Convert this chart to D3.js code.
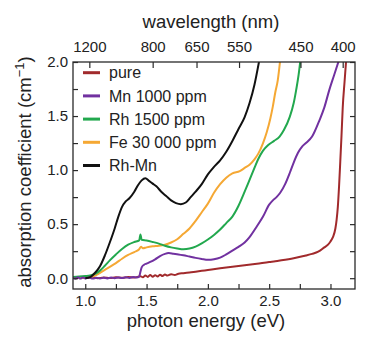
<!DOCTYPE html>
<html>
<head>
<meta charset="utf-8">
<script src="https://cdn.jsdelivr.net/npm/d3@7"></script>
<style>
  html, body { margin: 0; padding: 0; background: #fff; }
  svg { display: block; font-family: "Liberation Sans", Arial, sans-serif; }
</style>
</head>
<body>
<svg id="chart" width="376" height="342"></svg>
<script>
// Absorption spectra: photon energy (eV) vs absorption coefficient (cm^-1)
const seriesNames = ["pure", "Mn 1000 ppm", "Rh 1500 ppm", "Fe 30 000 ppm", "Rh-Mn"];
const seriesColors = ["#a12a2c", "#7131a0", "#22a84e", "#f5a834", "#111111"];

const purePts = [
  [0.90,0.010],[0.93,0.000],[0.96,0.012],[1.00,0.002],[1.05,0.008],[1.10,0.000],[1.15,0.006],
  [1.20,0.002],[1.25,0.008],[1.30,0.004],[1.35,0.010],[1.40,0.006],[1.45,0.018],[1.47,0.008],
  [1.49,0.026],[1.51,0.012],[1.53,0.030],[1.55,0.014],[1.57,0.028],[1.59,0.016],[1.61,0.032],
  [1.63,0.020],[1.65,0.034],[1.67,0.024],[1.70,0.036],[1.73,0.030],[1.76,0.042],[1.80,0.046],
  [1.85,0.052],[1.90,0.060],[1.95,0.068],[2.00,0.076],[2.10,0.092],[2.20,0.106],[2.30,0.120],
  [2.40,0.134],[2.50,0.150],[2.55,0.156],[2.60,0.165],[2.70,0.185],[2.80,0.210],[2.85,0.225],
  [2.90,0.245],[2.95,0.285],[2.98,0.310],[3.00,0.340],[3.02,0.380],[3.04,0.460],[3.05,0.540],
  [3.06,0.660],[3.07,0.850],[3.08,1.080],[3.09,1.320],[3.10,1.580],[3.115,1.820],[3.13,2.050]
];
const mnPts = [
  [0.90,0.005],[0.92,-0.005],[0.94,0.008],[0.96,-0.004],[0.98,0.006],[1.00,-0.002],[1.03,0.006],
  [1.06,-0.004],[1.09,0.004],[1.12,-0.003],[1.15,0.005],[1.18,-0.002],[1.21,0.006],[1.24,0.000],
  [1.27,0.007],[1.30,0.001],[1.33,0.008],[1.36,0.002],[1.39,0.010],[1.42,0.006],[1.44,0.015],
  [1.45,0.060],[1.46,0.100],[1.48,0.125],[1.50,0.135],[1.53,0.150],[1.57,0.175],[1.61,0.205],
  [1.65,0.225],[1.68,0.232],[1.72,0.226],[1.76,0.220],[1.80,0.212],[1.85,0.200],[1.90,0.188],
  [1.95,0.178],[2.00,0.170],[2.05,0.175],[2.10,0.190],[2.15,0.220],[2.20,0.255],[2.25,0.290],
  [2.30,0.330],[2.34,0.380],[2.40,0.480],[2.45,0.570],[2.50,0.680],[2.53,0.720],[2.56,0.750],
  [2.59,0.790],[2.63,0.870],[2.67,0.980],[2.70,1.070],[2.735,1.160],[2.77,1.220],[2.80,1.250],
  [2.85,1.310],[2.91,1.460],[2.95,1.580],[2.99,1.740],[3.03,1.880],[3.07,2.020]
];
const rhPts = [
  [0.90,0.012],[0.95,0.015],[1.00,0.020],[1.04,0.026],[1.08,0.040],[1.12,0.070],[1.16,0.115],
  [1.20,0.165],[1.25,0.220],[1.30,0.270],[1.35,0.310],[1.40,0.335],[1.44,0.350],[1.45,0.405],
  [1.46,0.355],[1.50,0.348],[1.55,0.335],[1.60,0.320],[1.65,0.300],[1.70,0.285],[1.75,0.275],
  [1.80,0.268],[1.85,0.274],[1.90,0.292],[1.95,0.322],[2.00,0.358],[2.05,0.400],[2.10,0.450],
  [2.15,0.510],[2.20,0.570],[2.25,0.670],[2.30,0.800],[2.34,0.910],[2.38,1.020],[2.41,1.100],
  [2.45,1.180],[2.49,1.230],[2.54,1.270],[2.585,1.310],[2.62,1.370],[2.667,1.490],[2.70,1.620],
  [2.72,1.740],[2.74,1.880],[2.755,2.020]
];
const fePts = [
  [0.95,0.004],[1.00,0.002],[1.05,0.010],[1.10,0.035],[1.15,0.070],[1.20,0.105],[1.25,0.140],
  [1.30,0.180],[1.35,0.215],[1.40,0.242],[1.44,0.268],[1.455,0.292],[1.47,0.276],[1.50,0.285],
  [1.55,0.295],[1.60,0.300],[1.65,0.310],[1.70,0.330],[1.75,0.360],[1.80,0.410],[1.85,0.460],
  [1.90,0.530],[1.95,0.610],[2.00,0.690],[2.05,0.790],[2.10,0.870],[2.15,0.930],[2.20,0.970],
  [2.26,0.990],[2.30,1.020],[2.34,1.050],[2.38,1.100],[2.41,1.150],[2.45,1.250],[2.48,1.350],
  [2.51,1.480],[2.53,1.590],[2.55,1.720],[2.57,1.830],[2.59,2.020]
];
const rhMnPts = [
  [1.00,0.000],[1.04,0.010],[1.08,0.050],[1.12,0.110],[1.16,0.210],[1.20,0.330],[1.24,0.460],
  [1.27,0.570],[1.30,0.660],[1.33,0.710],[1.36,0.740],[1.40,0.800],[1.43,0.860],[1.46,0.905],
  [1.49,0.925],[1.52,0.900],[1.55,0.875],[1.58,0.850],[1.62,0.800],[1.66,0.760],[1.70,0.720],
  [1.74,0.695],[1.78,0.685],[1.82,0.700],[1.86,0.750],[1.90,0.800],[1.95,0.870],[2.00,0.960],
  [2.05,1.030],[2.10,1.090],[2.15,1.170],[2.20,1.270],[2.25,1.380],[2.30,1.490],[2.34,1.620],
  [2.38,1.790],[2.42,2.020]
];
const seriesData = [purePts, mnPts, rhPts, fePts, rhMnPts];
// drawing order (back to front)
const drawOrder = [0, 3, 2, 1, 4];

const energyTicks = [1.0, 1.5, 2.0, 2.5, 3.0];
const energyMinorTicks = [1.0, 1.25, 1.5, 1.75, 2.0, 2.25, 2.5, 2.75, 3.0];
const wavelengthTicks = [1200, 800, 650, 550, 450, 400];
const absTicks = [0.0, 0.5, 1.0, 1.5, 2.0];
const absMinorTicks = [0.0, 0.25, 0.5, 0.75, 1.0, 1.25, 1.5, 1.75, 2.0];
const HC = 1239.84; // eV·nm

const svg = d3.select("#chart");
const margin = { left: 73, right: 21, top: 62, bottom: 53 };
const W = 376, H = 342;
const x = d3.scaleLinear().domain([0.9, 3.2]).range([margin.left, W - margin.right]);
const y = d3.scaleLinear().domain([-0.1, 2.0]).range([H - margin.bottom, margin.top]);

const axisColor = "#2a2a2a";
const textColor = "#222";

svg.append("defs").append("clipPath").attr("id", "plot-clip")
  .append("rect")
  .attr("x", x(0.9)).attr("y", y(2.0))
  .attr("width", x(3.2) - x(0.9)).attr("height", y(-0.1) - y(2.0));

// curves
const line = d3.line()
  .x(d => x(d[0]))
  .y(d => y(d[1]))
  .curve(d3.curveMonotoneX);

const curves = svg.append("g").attr("clip-path", "url(#plot-clip)");
drawOrder.forEach(i => {
  curves.append("path")
    .datum(seriesData[i])
    .attr("d", line)
    .attr("fill", "none")
    .attr("stroke", seriesColors[i])
    .attr("stroke-width", 2)
    .attr("stroke-linejoin", "round");
});

// axes (ticks pointing inward)
function styleAxis(g) {
  g.select(".domain").remove();
  g.selectAll(".tick line").attr("stroke", axisColor).attr("stroke-width", 1.2);
  g.selectAll(".tick text")
    .attr("fill", textColor)
    .style("font-size", "15px")
    .style("font-family", "'Liberation Sans', Arial, sans-serif");
}

// bottom
svg.append("g")
  .attr("transform", `translate(0,${y(-0.1)})`)
  .call(d3.axisBottom(x).tickValues(energyMinorTicks).tickSizeInner(-5).tickSizeOuter(0)
    .tickFormat(d => energyTicks.includes(d) ? d3.format(".1f")(d) : "").tickPadding(6))
  .call(styleAxis);

// top: wavelength
svg.append("g")
  .attr("transform", `translate(0,${y(2.0)})`)
  .call(d3.axisTop(x).tickValues(wavelengthTicks.map(l => HC / l)).tickSizeInner(-6).tickSizeOuter(0)
    .tickFormat((d, i) => String(wavelengthTicks[i])).tickPadding(10))
  .call(styleAxis);

// left
svg.append("g")
  .attr("transform", `translate(${x(0.9)},0)`)
  .call(d3.axisLeft(y).tickValues(absMinorTicks).tickSizeInner(-5).tickSizeOuter(0)
    .tickFormat(d => absTicks.includes(d) ? d3.format(".1f")(d) : "").tickPadding(5))
  .call(styleAxis);

// right
svg.append("g")
  .attr("transform", `translate(${x(3.2)},0)`)
  .call(d3.axisRight(y).tickValues(absMinorTicks).tickSizeInner(-5).tickSizeOuter(0).tickFormat(""))
  .call(styleAxis);

// frame
svg.append("rect")
  .attr("x", x(0.9)).attr("y", y(2.0))
  .attr("width", x(3.2) - x(0.9)).attr("height", y(-0.1) - y(2.0))
  .attr("fill", "none").attr("stroke", axisColor).attr("stroke-width", 1.3);

// axis titles
svg.append("text")
  .attr("x", (x(0.9) + x(3.2)) / 2 - 8).attr("y", 327)
  .attr("text-anchor", "middle").attr("fill", textColor)
  .style("font-size", "18.5px")
  .text("photon energy (eV)");

svg.append("text")
  .attr("x", (x(0.9) + x(3.2)) / 2 - 3).attr("y", 28)
  .attr("text-anchor", "middle").attr("fill", textColor)
  .style("font-size", "18.5px")
  .text("wavelength (nm)");

const yTitle = svg.append("text")
  .attr("transform", "translate(31,172) rotate(-90)")
  .attr("text-anchor", "middle").attr("fill", textColor)
  .style("font-size", "18.5px");
yTitle.append("tspan").text("absorption coefficient (cm");
yTitle.append("tspan").attr("dy", -7).style("font-size", "13px").text("\u22121");
yTitle.append("tspan").attr("dy", 7).text(")");

// legend
const legend = svg.append("g");
seriesNames.forEach((name, i) => {
  const cy = 72.7 + i * 23.2;
  legend.append("line")
    .attr("x1", 83).attr("x2", 100).attr("y1", cy).attr("y2", cy)
    .attr("stroke", seriesColors[i]).attr("stroke-width", 3);
  legend.append("text")
    .attr("x", 109).attr("y", cy).attr("dy", "0.36em")
    .attr("fill", textColor)
    .style("font-size", "16px")
    .text(name);
});
</script>
</body>
</html>
